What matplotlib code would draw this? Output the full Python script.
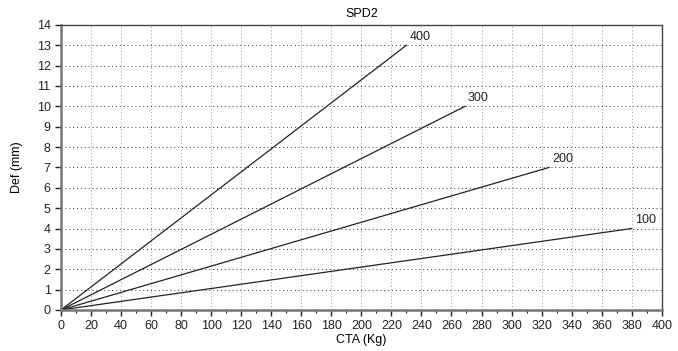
import numpy as np
from matplotlib import pyplot as plt

plt.rcParams['font.family'] = ['Liberation Sans', 'DejaVu Sans']

# end points of each load line (all start at origin)
labels = ['400', '300', '200', '100']
cta_end = [230, 269, 325, 380]
def_end = [13, 10, 7, 4]

def main():
	fig = plt.figure(figsize=(6.78, 3.51), dpi=100)
	ax = fig.add_axes([0.090, 0.117, 0.886, 0.812])
	for lab, x1, y1 in zip(labels, cta_end, def_end):
		ax.plot([0, x1], [0, y1], color='#222222', lw=0.9)
		ax.text(x1 + 2, y1 + 0.1, lab, fontsize=9, ha='left', va='bottom', color='#222222')
	ax.set_xlim(0, 400)
	ax.set_ylim(0, 14)
	ax.set_xticks(np.arange(0, 401, 20))
	ax.set_xticks(np.arange(0, 401, 10), minor=True)
	ax.set_yticks(np.arange(0, 15, 1))
	ax.tick_params(axis='both', which='major', direction='out', length=4, width=1, labelsize=9, colors='#222222')
	ax.tick_params(axis='x', which='minor', direction='out', length=2.5, width=0.8, color='#222222')
	ax.grid(True, axis='y', linestyle=(0, (1, 3)), color='#333333', lw=0.7)
	ax.grid(True, axis='x', linestyle=(0, (1, 2.5)), color='#999999', lw=0.7)
	for s in ['left', 'bottom']:
		ax.spines[s].set_color('#777777')
		ax.spines[s].set_linewidth(1.8)
	for s in ['top', 'right']:
		ax.spines[s].set_color('#444444')
		ax.spines[s].set_linewidth(1.0)
	ax.set_title('SPD2', fontsize=9, pad=6)
	ax.set_xlabel('CTA (Kg)', fontsize=9, labelpad=1)
	ax.set_ylabel('Def (mm)', fontsize=9, labelpad=10)
	fig.savefig('out.png', dpi=100)

if __name__ == "__main__":
	main()
